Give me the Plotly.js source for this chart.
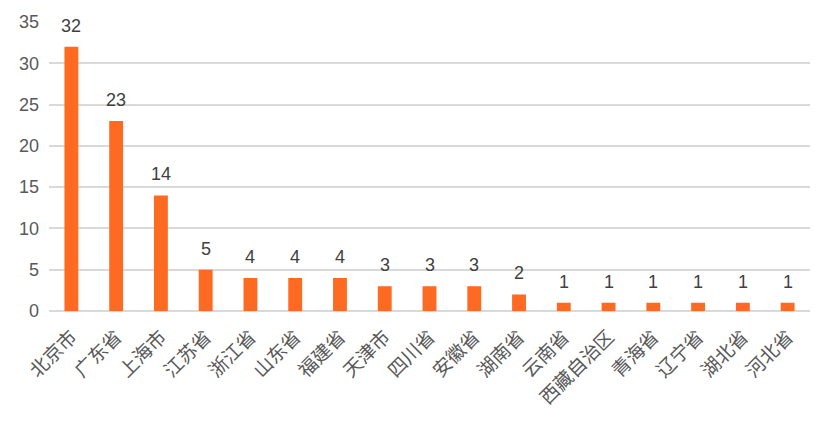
<!DOCTYPE html>
<html><head><meta charset="utf-8">
<script src="https://cdn.plot.ly/plotly-3.0.1.min.js"></script>
<style>html,body{margin:0;padding:0;background:#fff}#chart{width:834px;height:426px}</style>
</head><body><div id="chart"></div>
<script>
const categories = ["北京市","广东省","上海市","江苏省","浙江省","山东省","福建省","天津市","四川省","安徽省","湖南省","云南省","西藏自治区","青海省","辽宁省","湖北省","河北省"];
const values = [32,23,14,5,4,4,4,3,3,3,2,1,1,1,1,1,1];
const yTicks = [0,5,10,15,20,25,30,35];
const FONT = "Liberation Sans, Noto Sans CJK SC, sans-serif";

const trace = {
  type: 'bar', x: categories, y: values,
  marker: {color: '#FF6A22'},
  hoverinfo: 'none'
};
const annotations = categories.map((c, i) => ({
  x: c, y: values[i], text: String(values[i]), showarrow: false,
  yanchor: 'bottom', yshift: 9,
  font: {family: FONT, size: 18, color: '#404040'}
}));
const layout = {
  width: 834, height: 426,
  margin: {l: 49, r: 24, t: 22, b: 115},
  paper_bgcolor: '#fff', plot_bgcolor: '#fff',
  bargap: 0.69,
  showlegend: false,
  xaxis: {
    tickangle: -45, showgrid: false, zeroline: false,
    tickfont: {family: FONT, size: 19, color: '#595959'},
    ticks: '', showline: false, ticklabelstandoff: 10
  },
  yaxis: {
    range: [0, 35], tickvals: yTicks, ticktext: yTicks.map(String),
    showgrid: true, gridcolor: '#d9d9d9', gridwidth: 2,
    zeroline: true, zerolinecolor: '#d9d9d9', zerolinewidth: 2,
    tickfont: {family: FONT, size: 18, color: '#595959'},
    ticks: '', ticklabelstandoff: 9, showline: false
  },
  annotations: annotations
};
Plotly.newPlot('chart', [trace], layout, {staticPlot: true, displayModeBar: false});
</script></body></html>
